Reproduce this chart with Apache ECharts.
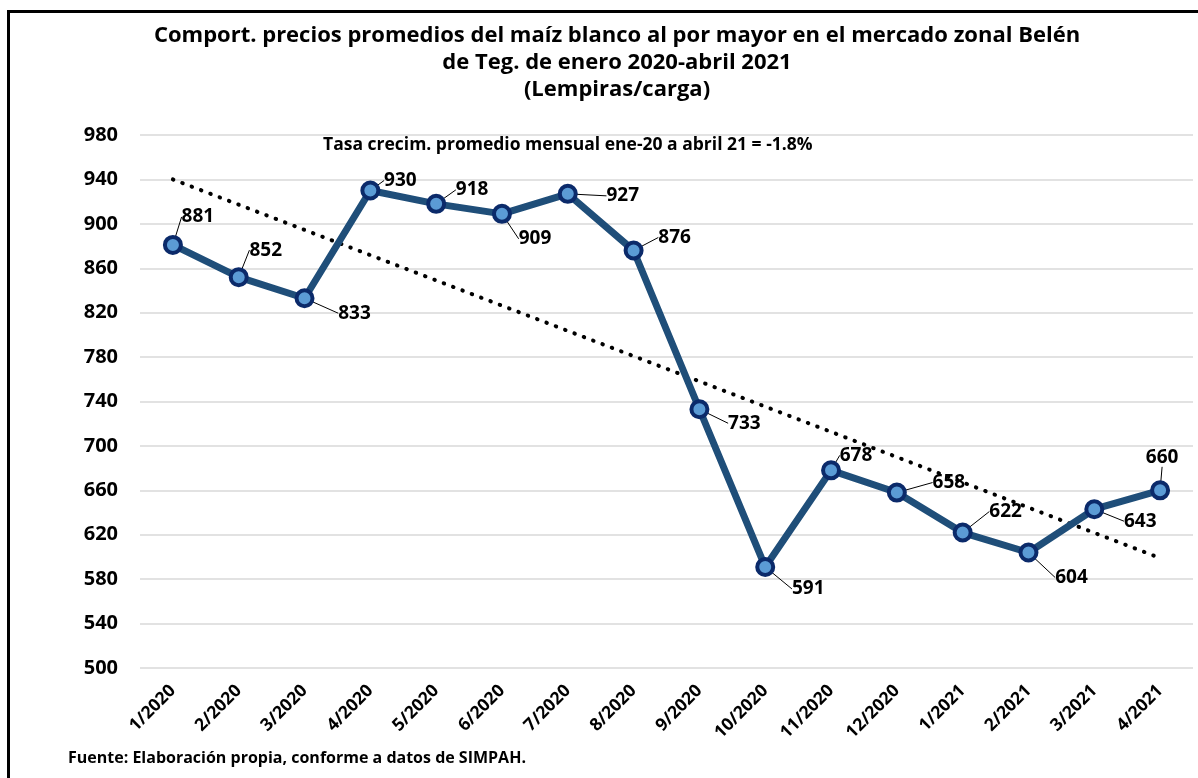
<!DOCTYPE html>
<html>
<head>
<meta charset="utf-8">
<script src="https://cdn.jsdelivr.net/npm/echarts@6/dist/echarts.min.js"></script>
<style>
html,body{margin:0;padding:0;background:#fff;}
#chart{width:1198px;height:778px;}
</style>
</head>
<body>
<div id="chart"></div>
<script>
// datos
var meses = ['1/2020','2/2020','3/2020','4/2020','5/2020','6/2020','7/2020','8/2020',
	'9/2020','10/2020','11/2020','12/2020','1/2021','2/2021','3/2021','4/2021'];
var precios = [881,852,833,930,918,909,927,876,733,591,678,658,622,604,643,660];
// tendencia lineal (extremos)
var tendencia = [[0,940],[15,599]];

var titulo = 'Comport. precios promedios del maíz blanco al por mayor en el mercado zonal Belén\nde Teg. de enero 2020-abril 2021\n(Lempiras/carga)';
var tasa = 'Tasa crecim. promedio mensual ene-20 a abril 21 = -1.8%';
var fuente = 'Fuente: Elaboración propia, conforme a datos de SIMPAH.';

// desplazamiento de cada etiqueta respecto al punto (px)
var etiquetas = [[25,-28],[27,-27],[50,15],[30,-10],[36,-14],[33,25],[55,2],[41,-13],
	[45,14],[43,22],[25,-15],[52,-10],[43,-21],[43,25],[46,12],[2,-33]];

var FONT = 'Open Sans';
var chart = echarts.init(document.getElementById('chart'));

chart.setOption({
	backgroundColor: '#fff',
	animation: false,
	title: {
		text: titulo,
		left: 612,
		textAlign: 'center',
		top: 17,
		textStyle: {
			fontFamily: FONT,
			fontWeight: 'bold',
			fontSize: 22,
			color: '#000',
			lineHeight: 27
		}
	},
	graphic: [
		{
			type: 'rect',
			shape: {x: 8.5, y: 11.5, width: 1200, height: 800},
			style: {fill: 'none', stroke: '#000', lineWidth: 3},
			silent: true
		},
		{
			type: 'text',
			left: 323,
			top: 136,
			style: {text: tasa, font: 'bold 17.5px "Open Sans"', fill: '#000'}
		},
		{
			type: 'text',
			left: 68,
			top: 750,
			style: {text: fuente, font: 'bold 16px "Open Sans"', fill: '#000'}
		}
	],
	grid: {
		left: 140,
		right: 5,
		top: 135,
		bottom: 110,
		containLabel: false
	},
	xAxis: {
		type: 'category',
		data: meses,
		boundaryGap: true,
		axisLine: {show: false},
		axisTick: {show: false},
		axisLabel: {
			rotate: 45,
			margin: 20,
			fontFamily: FONT,
			fontWeight: 'bold',
			fontSize: 17.5,
			color: '#000'
		}
	},
	yAxis: {
		type: 'value',
		min: 500,
		max: 980,
		interval: 40,
		axisLine: {show: false},
		axisTick: {show: false},
		splitLine: {lineStyle: {color: '#d9d9d9', width: 1.5}},
		axisLabel: {
			margin: 22,
			fontFamily: FONT,
			fontWeight: 'bold',
			fontSize: 20,
			color: '#000'
		}
	},
	series: [
		{
			name: 'Tendencia',
			type: 'line',
			data: tendencia,
			symbol: 'none',
			z: 3,
			lineStyle: {
				color: '#000',
				width: 4,
				type: [0.5, 9.5],
				cap: 'round'
			}
		},
		{
			name: 'Precio',
			type: 'line',
			data: precios,
			z: 4,
			symbol: 'circle',
			symbolSize: 16,
			lineStyle: {color: '#1f4e79', width: 7},
			itemStyle: {color: '#5b9bd5', borderColor: '#0b2a6a', borderWidth: 4},
			label: {
				show: true,
				position: 'inside',
				fontFamily: FONT,
				fontWeight: 'bold',
				fontSize: 19,
				color: '#000'
			},
			labelLine: {
				show: true,
				length2: 0,
				lineStyle: {color: '#000', width: 1}
			},
			labelLayout: function (p) {
				var o = etiquetas[p.dataIndex];
				return {dx: o[0], dy: o[1]};
			}
		}
	]
});
</script>
</body>
</html>
